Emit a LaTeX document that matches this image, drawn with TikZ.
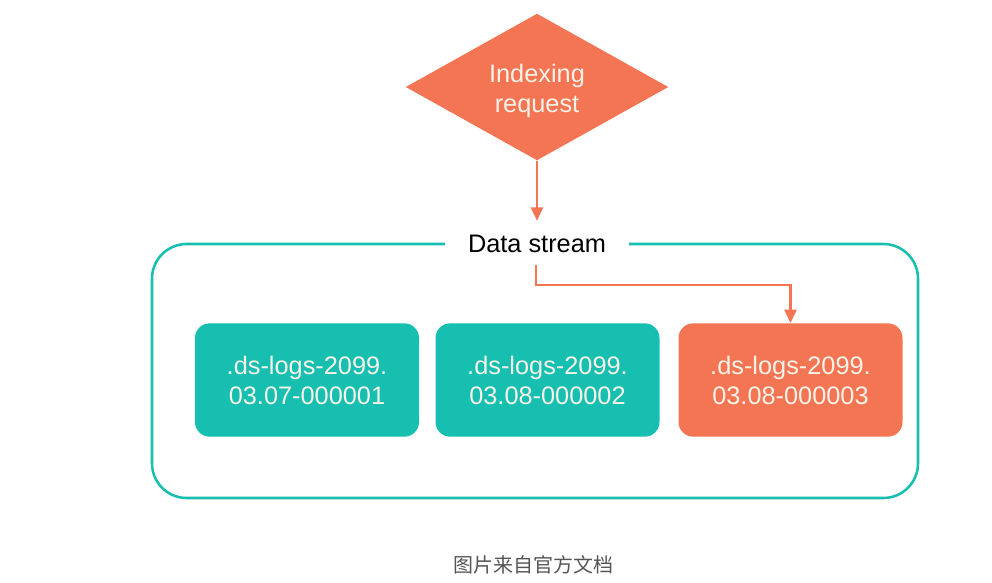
\documentclass[tikz,border=0pt]{standalone}
\usepackage{fontspec}
\setmainfont{Liberation Sans}
\newfontfamily\cjkfont{Noto Sans CJK SC}
\usetikzlibrary{shapes.geometric,arrows.meta}
\definecolor{coral}{HTML}{F47554}
\definecolor{teal}{HTML}{17BFB1}
\definecolor{paletxt}{HTML}{F6F2E8}
\definecolor{capgrey}{HTML}{555555}
\tikzset{
  big/.style={font=\fontsize{19}{22.5}\selectfont},
  idx/.style={big, rounded corners=11pt, minimum width=168pt, minimum height=85pt,
    inner sep=0pt, align=center, text=paletxt},
  arr/.style={draw=coral, line width=1.8pt, -{Triangle[width=9pt,length=10pt]}},
}
\begin{document}
\begin{tikzpicture}[x=0.75pt,y=-0.75pt]
\useasboundingbox (0,0) rectangle (992,582);
% container
\draw[teal, line width=1.9pt, rounded corners=26pt] (152,244) rectangle (918,498);
\node[big, fill=white, inner xsep=17pt, inner ysep=7.5pt, text height=16pt, text depth=2pt] (ds) at (537,243) {Data stream};
% diamond
\node[diamond, aspect=1.8, fill=coral, minimum width=197pt, minimum height=110pt,
  inner sep=0pt] (dia) at (537,87) {};
\node[big, align=center, text=paletxt] (dialbl) at (537,91) {Indexing\\request};
% boxes
\node[idx, fill=teal] (b1) at (307,380) {.ds-logs-2099.\\03.07-000001};
\node[idx, fill=teal] (b2) at (547.5,380) {.ds-logs-2099.\\03.08-000002};
\node[idx, fill=coral] (b3) at (790.5,380) {.ds-logs-2099.\\03.08-000003};
% arrows
\draw[arr] (dia.south) -- (dia.south |- ds.north);
\coordinate (dsout) at (536,265);
\draw[arr] (dsout) |- (790.5,285) -- (b3.north);
% caption
\node[font=\cjkfont\fontsize{15}{18}\selectfont, text=capgrey] (cap) at (533,565) {图片来自官方文档};
\end{tikzpicture}
\end{document}
